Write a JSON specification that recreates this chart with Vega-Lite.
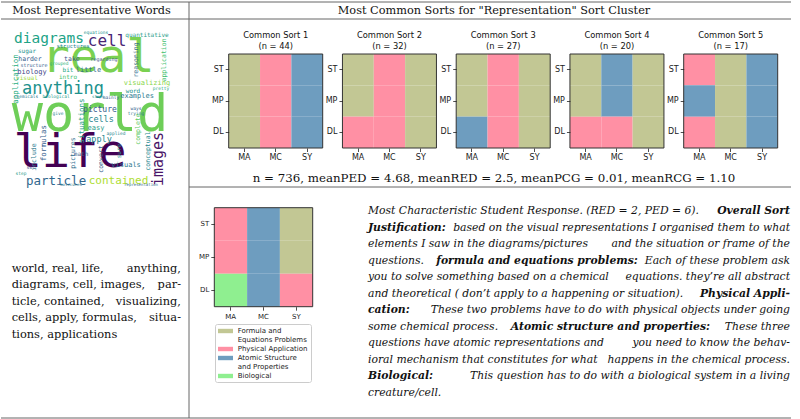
{
 "$schema": "https://vega.github.io/schema/vega-lite/v6.json",
 "padding": {"top": 1, "left": 0, "right": 0, "bottom": 0},
 "background": "white",
 "config": {
  "view": {"stroke": null},
  "axis": {"labelFont": "DejaVu Sans", "labelFontSize": 8, "labelColor": "#222", "tickColor": "#222", "tickSize": 3.5, "tickWidth": 0.8, "labelPadding": 2, "domain": false, "grid": false, "title": null, "labelAngle": 0}
 },
 "datasets": {
  "headers": [
   {"cell": "words", "text": "Most Representative Words"},
   {"cell": "sorts", "text": "Most Common Sorts for \"Representation\" Sort Cluster"}
  ],
  "panels": [
   {"sort": 1, "label": ["Common Sort 1", "(n = 44)"]},
   {"sort": 2, "label": ["Common Sort 2", "(n = 32)"]},
   {"sort": 3, "label": ["Common Sort 3", "(n = 27)"]},
   {"sort": 4, "label": ["Common Sort 4", "(n = 20)"]},
   {"sort": 5, "label": ["Common Sort 5", "(n = 17)"]}
  ],
  "sorts": [
   {"sort": 1, "col": "MA", "row": "ST", "cat": "Formula and Equations Problems"},
   {"sort": 1, "col": "MA", "row": "MP", "cat": "Formula and Equations Problems"},
   {"sort": 1, "col": "MA", "row": "DL", "cat": "Formula and Equations Problems"},
   {"sort": 1, "col": "MC", "row": "ST", "cat": "Physical Application"},
   {"sort": 1, "col": "MC", "row": "MP", "cat": "Physical Application"},
   {"sort": 1, "col": "MC", "row": "DL", "cat": "Physical Application"},
   {"sort": 1, "col": "SY", "row": "ST", "cat": "Atomic Structure and Properties"},
   {"sort": 1, "col": "SY", "row": "MP", "cat": "Atomic Structure and Properties"},
   {"sort": 1, "col": "SY", "row": "DL", "cat": "Atomic Structure and Properties"},
   {"sort": 2, "col": "MA", "row": "ST", "cat": "Formula and Equations Problems"},
   {"sort": 2, "col": "MA", "row": "MP", "cat": "Formula and Equations Problems"},
   {"sort": 2, "col": "MA", "row": "DL", "cat": "Physical Application"},
   {"sort": 2, "col": "MC", "row": "ST", "cat": "Physical Application"},
   {"sort": 2, "col": "MC", "row": "MP", "cat": "Physical Application"},
   {"sort": 2, "col": "MC", "row": "DL", "cat": "Physical Application"},
   {"sort": 2, "col": "SY", "row": "ST", "cat": "Formula and Equations Problems"},
   {"sort": 2, "col": "SY", "row": "MP", "cat": "Formula and Equations Problems"},
   {"sort": 2, "col": "SY", "row": "DL", "cat": "Formula and Equations Problems"},
   {"sort": 3, "col": "MA", "row": "ST", "cat": "Formula and Equations Problems"},
   {"sort": 3, "col": "MA", "row": "MP", "cat": "Formula and Equations Problems"},
   {"sort": 3, "col": "MA", "row": "DL", "cat": "Atomic Structure and Properties"},
   {"sort": 3, "col": "MC", "row": "ST", "cat": "Physical Application"},
   {"sort": 3, "col": "MC", "row": "MP", "cat": "Physical Application"},
   {"sort": 3, "col": "MC", "row": "DL", "cat": "Physical Application"},
   {"sort": 3, "col": "SY", "row": "ST", "cat": "Formula and Equations Problems"},
   {"sort": 3, "col": "SY", "row": "MP", "cat": "Formula and Equations Problems"},
   {"sort": 3, "col": "SY", "row": "DL", "cat": "Formula and Equations Problems"},
   {"sort": 4, "col": "MA", "row": "ST", "cat": "Formula and Equations Problems"},
   {"sort": 4, "col": "MA", "row": "MP", "cat": "Formula and Equations Problems"},
   {"sort": 4, "col": "MA", "row": "DL", "cat": "Physical Application"},
   {"sort": 4, "col": "MC", "row": "ST", "cat": "Atomic Structure and Properties"},
   {"sort": 4, "col": "MC", "row": "MP", "cat": "Atomic Structure and Properties"},
   {"sort": 4, "col": "MC", "row": "DL", "cat": "Physical Application"},
   {"sort": 4, "col": "SY", "row": "ST", "cat": "Formula and Equations Problems"},
   {"sort": 4, "col": "SY", "row": "MP", "cat": "Formula and Equations Problems"},
   {"sort": 4, "col": "SY", "row": "DL", "cat": "Formula and Equations Problems"},
   {"sort": 5, "col": "MA", "row": "ST", "cat": "Physical Application"},
   {"sort": 5, "col": "MA", "row": "MP", "cat": "Atomic Structure and Properties"},
   {"sort": 5, "col": "MA", "row": "DL", "cat": "Physical Application"},
   {"sort": 5, "col": "MC", "row": "ST", "cat": "Formula and Equations Problems"},
   {"sort": 5, "col": "MC", "row": "MP", "cat": "Formula and Equations Problems"},
   {"sort": 5, "col": "MC", "row": "DL", "cat": "Formula and Equations Problems"},
   {"sort": 5, "col": "SY", "row": "ST", "cat": "Atomic Structure and Properties"},
   {"sort": 5, "col": "SY", "row": "MP", "cat": "Atomic Structure and Properties"},
   {"sort": 5, "col": "SY", "row": "DL", "cat": "Atomic Structure and Properties"}
  ],
  "example": [
   {"col": "MA", "row": "ST", "cat": "Physical Application"},
   {"col": "MA", "row": "MP", "cat": "Physical Application"},
   {"col": "MA", "row": "DL", "cat": "Biological"},
   {"col": "MC", "row": "ST", "cat": "Atomic Structure and Properties"},
   {"col": "MC", "row": "MP", "cat": "Atomic Structure and Properties"},
   {"col": "MC", "row": "DL", "cat": "Atomic Structure and Properties"},
   {"col": "SY", "row": "ST", "cat": "Formula and Equations Problems"},
   {"col": "SY", "row": "MP", "cat": "Formula and Equations Problems"},
   {"col": "SY", "row": "DL", "cat": "Physical Application"}
  ],
  "wordlist": [
   {"line": 1, "text": "world, real, life,", "end": false},
   {"line": 1, "text": "anything,", "end": true},
   {"line": 2, "text": "diagrams, cell, images,", "end": false},
   {"line": 2, "text": "par-", "end": true},
   {"line": 3, "text": "ticle, contained,", "end": false},
   {"line": 3, "text": "visualizing,", "end": true},
   {"line": 4, "text": "cells, apply, formulas,", "end": false},
   {"line": 4, "text": "situa-", "end": true},
   {"line": 5, "text": "tions, applications", "end": false}
  ],
  "paragraph": [
   {"line": 1, "col": 0, "bold": false, "text": "Most Characteristic Student Response. (RED = 2, PED = 6)."},
   {"line": 1, "col": 68, "bold": true, "text": "Overall Sort"},
   {"line": 2, "col": 0, "bold": true, "text": "Justification:"},
   {"line": 2, "col": 68, "bold": false, "text": "based on the visual representations I organised them to what"},
   {"line": 3, "col": 0, "bold": false, "text": "elements I saw in the diagrams/pictures"},
   {"line": 3, "col": 68, "bold": false, "text": "and the situation or frame of the"},
   {"line": 4, "col": 0, "bold": false, "text": "questions."},
   {"line": 4, "col": 11, "bold": true, "text": "formula and equations problems:"},
   {"line": 4, "col": 68, "bold": false, "text": "Each of these problem ask"},
   {"line": 5, "col": 0, "bold": false, "text": "you to solve something based on a chemical"},
   {"line": 5, "col": 68, "bold": false, "text": "equations.  they’re all abstract"},
   {"line": 6, "col": 0, "bold": false, "text": "and theoretical ( don’t apply to a happening or situation)."},
   {"line": 6, "col": 68, "bold": true, "text": "Physical Appli-"},
   {"line": 7, "col": 0, "bold": true, "text": "cation:"},
   {"line": 7, "col": 68, "bold": false, "text": "These two problems have to do with physical objects under going"},
   {"line": 8, "col": 0, "bold": false, "text": "some chemical process."},
   {"line": 8, "col": 23, "bold": true, "text": "Atomic structure and properties:"},
   {"line": 8, "col": 68, "bold": false, "text": "These three"},
   {"line": 9, "col": 0, "bold": false, "text": "questions have atomic representations and"},
   {"line": 9, "col": 68, "bold": false, "text": "you need to know the behav-"},
   {"line": 10, "col": 0, "bold": false, "text": "ioral mechanism that constitutes for what"},
   {"line": 10, "col": 68, "bold": false, "text": "happens in the chemical process."},
   {"line": 11, "col": 0, "bold": true, "text": "Biological:"},
   {"line": 11, "col": 68, "bold": false, "text": "This question has to do with a biological system in a living"},
   {"line": 12, "col": 0, "bold": false, "text": "creature/cell."}
  ],
  "cloud": [
   {"word": "world", "cx": 49.8, "cy": 53.4, "weight": 104, "tone": 0.78, "vertical": false},
   {"word": "real", "cx": 54.9, "cy": 16.2, "weight": 94, "tone": 0.8, "vertical": false},
   {"word": "life", "cx": 37.1, "cy": 78.5, "weight": 94, "tone": 0.0, "vertical": false},
   {"word": "anything", "cx": 32.6, "cy": 36.7, "weight": 34, "tone": 0.5, "vertical": false},
   {"word": "diagrams", "cx": 23.7, "cy": 3.8, "weight": 29, "tone": 0.58, "vertical": false},
   {"word": "cell", "cx": 60.6, "cy": 5.7, "weight": 32, "tone": 0.1, "vertical": false},
   {"word": "images", "cx": 93.6, "cy": 82.4, "weight": 30, "tone": 0.05, "vertical": true},
   {"word": "particle", "cx": 28.2, "cy": 96.7, "weight": 25, "tone": 0.33, "vertical": false},
   {"word": "contained", "cx": 67.9, "cy": 96.7, "weight": 22, "tone": 0.88, "vertical": false},
   {"word": "visualizing", "cx": 86.0, "cy": 32.8, "weight": 14, "tone": 0.82, "vertical": false},
   {"word": "situations", "cx": 44.7, "cy": 57.6, "weight": 15, "tone": 0.55, "vertical": true},
   {"word": "formulas", "cx": 20.5, "cy": 72.0, "weight": 15, "tone": 0.3, "vertical": true},
   {"word": "apply", "cx": 55.5, "cy": 69.3, "weight": 17, "tone": 0.45, "vertical": false},
   {"word": "cells", "cx": 56.8, "cy": 56.3, "weight": 17, "tone": 0.45, "vertical": false},
   {"word": "picture", "cx": 56.1, "cy": 50.4, "weight": 16, "tone": 0.3, "vertical": false},
   {"word": "examples", "cx": 79.7, "cy": 41.3, "weight": 14, "tone": 0.4, "vertical": false},
   {"word": "quantitative", "cx": 86.0, "cy": 1.2, "weight": 12, "tone": 0.55, "vertical": false},
   {"word": "structures", "cx": 39.0, "cy": 8.7, "weight": 11, "tone": 0.45, "vertical": false},
   {"word": "reasoning", "cx": 79.0, "cy": 17.8, "weight": 13, "tone": 0.35, "vertical": true},
   {"word": "application", "cx": 2.7, "cy": 30.2, "weight": 15, "tone": 0.62, "vertical": true},
   {"word": "application", "cx": 96.8, "cy": 17.8, "weight": 13, "tone": 0.7, "vertical": true},
   {"word": "biology", "cx": 12.9, "cy": 25.6, "weight": 14, "tone": 0.2, "vertical": false},
   {"word": "harder", "cx": 11.6, "cy": 17.2, "weight": 13, "tone": 0.3, "vertical": false},
   {"word": "take", "cx": 38.3, "cy": 17.2, "weight": 13, "tone": 0.25, "vertical": false},
   {"word": "bit", "cx": 35.8, "cy": 24.3, "weight": 12, "tone": 0.6, "vertical": false},
   {"word": "little", "cx": 48.8, "cy": 24.3, "weight": 14, "tone": 0.35, "vertical": false},
   {"word": "intro", "cx": 35.8, "cy": 28.9, "weight": 12, "tone": 0.7, "vertical": false},
   {"word": "visual", "cx": 9.7, "cy": 29.5, "weight": 12, "tone": 0.85, "vertical": false},
   {"word": "sugar", "cx": 9.7, "cy": 11.9, "weight": 12, "tone": 0.5, "vertical": false},
   {"word": "word", "cx": 77.1, "cy": 38.0, "weight": 12, "tone": 0.5, "vertical": false},
   {"word": "easy", "cx": 53.6, "cy": 62.2, "weight": 14, "tone": 0.55, "vertical": false},
   {"word": "visuals", "cx": 72.7, "cy": 86.0, "weight": 14, "tone": 0.4, "vertical": false},
   {"word": "conceptual", "cx": 86.6, "cy": 77.2, "weight": 13, "tone": 0.45, "vertical": true},
   {"word": "complete", "cx": 80.3, "cy": 62.8, "weight": 13, "tone": 0.75, "vertical": true},
   {"word": "convert", "cx": 56.8, "cy": 82.4, "weight": 13, "tone": 0.3, "vertical": true},
   {"word": "include", "cx": 14.2, "cy": 81.1, "weight": 13, "tone": 0.4, "vertical": true},
   {"word": "pictures", "cx": 39.0, "cy": 78.5, "weight": 13, "tone": 0.35, "vertical": true},
   {"word": "math", "cx": 44.1, "cy": 79.1, "weight": 12, "tone": 0.3, "vertical": false},
   {"word": "sure", "cx": 68.2, "cy": 77.2, "weight": 12, "tone": 0.5, "vertical": true},
   {"word": "structure", "cx": 14.2, "cy": 21.1, "weight": 10, "tone": 0.3, "vertical": false},
   {"word": "equations", "cx": 53.6, "cy": 0.5, "weight": 9, "tone": 0.5, "vertical": false},
   {"word": "chemicals", "cx": 9.1, "cy": 41.9, "weight": 9, "tone": 0.4, "vertical": false},
   {"word": "biological", "cx": 28.2, "cy": 41.9, "weight": 9, "tone": 0.55, "vertical": false},
   {"word": "mainly", "cx": 63.1, "cy": 42.6, "weight": 9, "tone": 0.3, "vertical": false},
   {"word": "regarding", "cx": 58.7, "cy": 17.2, "weight": 10, "tone": 0.25, "vertical": false},
   {"word": "pretty", "cx": 94.9, "cy": 36.7, "weight": 9, "tone": 0.6, "vertical": false},
   {"word": "steps", "cx": 54.9, "cy": 41.9, "weight": 8, "tone": 0.5, "vertical": false},
   {"word": "molecules", "cx": 37.7, "cy": 99.3, "weight": 8, "tone": 0.4, "vertical": false},
   {"word": "representation", "cx": 82.2, "cy": 99.3, "weight": 8, "tone": 0.35, "vertical": false},
   {"word": "applied", "cx": 66.3, "cy": 66.1, "weight": 9, "tone": 0.45, "vertical": false},
   {"word": "ways", "cx": 79.0, "cy": 49.8, "weight": 9, "tone": 0.3, "vertical": false},
   {"word": "trying", "cx": 79.0, "cy": 53.0, "weight": 9, "tone": 0.4, "vertical": false},
   {"word": "grouped", "cx": 30.1, "cy": 20.4, "weight": 9, "tone": 0.65, "vertical": false},
   {"word": "give", "cx": 29.4, "cy": 53.0, "weight": 9, "tone": 0.45, "vertical": false},
   {"word": "set", "cx": 12.3, "cy": 87.6, "weight": 10, "tone": 0.2, "vertical": false},
   {"word": "step", "cx": 5.9, "cy": 92.1, "weight": 9, "tone": 0.55, "vertical": false}
  ]
 },
 "columns": 2,
 "spacing": 0,
 "align": "none",
 "bounds": "flush",
 "resolve": {"scale": {"color": "independent", "size": "independent"}, "legend": {"color": "independent", "size": "independent"}},
 "concat": [
  {
   "width": 188, "height": 17,
   "layer": [
    {"data": {"name": "headers"}, "transform": [{"filter": "datum.cell == 'words'"}], "mark": {"type": "text", "font": "DejaVu Serif", "fontSize": 11.3, "baseline": "middle", "color": "#111", "dx": -3.5}, "encoding": {"text": {"field": "text", "type": "nominal"}}},
    {"data": {"values": [{}]}, "mark": {"type": "rule", "color": "#666", "strokeWidth": 1}, "encoding": {"y": {"datum": 1, "type": "quantitative", "scale": {"domain": [0, 1]}, "axis": null}}},
    {"data": {"values": [{}]}, "mark": {"type": "rule", "color": "#666", "strokeWidth": 1}, "encoding": {"y": {"datum": 0, "type": "quantitative", "scale": {"domain": [0, 1]}, "axis": null}}},
    {"data": {"values": [{}]}, "mark": {"type": "rule", "color": "#666", "strokeWidth": 1}, "encoding": {"x": {"datum": 1, "type": "quantitative", "scale": {"domain": [0, 1]}, "axis": null}}}
   ]
  },
  {
   "width": 602, "height": 17,
   "layer": [
    {"data": {"name": "headers"}, "transform": [{"filter": "datum.cell == 'sorts'"}], "mark": {"type": "text", "font": "DejaVu Serif", "fontSize": 11.3, "baseline": "middle", "color": "#111", "dx": 4}, "encoding": {"text": {"field": "text", "type": "nominal"}}},
    {"data": {"values": [{}]}, "mark": {"type": "rule", "color": "#666", "strokeWidth": 1}, "encoding": {"y": {"datum": 1, "type": "quantitative", "scale": {"domain": [0, 1]}, "axis": null}}},
    {"data": {"values": [{}]}, "mark": {"type": "rule", "color": "#666", "strokeWidth": 1}, "encoding": {"y": {"datum": 0, "type": "quantitative", "scale": {"domain": [0, 1]}, "axis": null}}}
   ]
  },
  {
   "width": 188, "height": 168,
   "resolve": {"scale": {"x": "independent", "y": "independent"}},
   "layer": [
    {
     "data": {"name": "cloud"},
     "encoding": {
      "x": {"field": "cx", "type": "quantitative", "scale": {"domain": [-6.8, 112.7], "nice": false, "zero": false}, "axis": null},
      "y": {"field": "cy", "type": "quantitative", "scale": {"domain": [-8.94, 100.65], "nice": false, "zero": false, "reverse": true}, "axis": null},
      "text": {"field": "word", "type": "nominal"},
      "size": {"field": "weight", "type": "quantitative", "scale": {"type": "linear", "domain": [0, 104], "range": [0, 52], "nice": false, "zero": true}, "legend": null},
      "color": {"field": "tone", "type": "quantitative", "scale": {"scheme": "viridis", "domain": [0, 1]}, "legend": null}
     },
     "layer": [
      {"transform": [{"filter": "!datum.vertical"}], "mark": {"type": "text", "font": "DejaVu Sans Mono", "baseline": "middle", "align": "center"}},
      {"transform": [{"filter": "datum.vertical"}], "mark": {"type": "text", "font": "DejaVu Sans Mono", "baseline": "middle", "align": "center", "angle": 270}}
     ]
    },
    {"data": {"values": [{}]}, "mark": {"type": "rule", "color": "#666", "strokeWidth": 1}, "encoding": {"x": {"datum": 1, "type": "quantitative", "scale": {"domain": [0, 1]}, "axis": null}}}
   ]
  },
  {
   "width": 602, "height": 168,
   "title": {"text": "n = 736, meanPED = 4.68, meanRED = 2.5, meanPCG = 0.01, meanRCG = 1.10", "orient": "bottom", "frame": "group", "offset": -15, "anchor": "middle", "font": "DejaVu Serif", "fontSize": 11.8, "fontWeight": "normal", "color": "#111", "dx": 4},
   "resolve": {"scale": {"x": "independent", "y": "independent"}, "axis": {"x": "independent", "y": "independent"}},
   "layer": [
    {"data": {"name": "sorts"}, "transform": [{"filter": "datum.sort == 1"}], "mark": {"type": "rect"},
     "encoding": {
      "x": {"field": "col", "type": "nominal", "scale": {"domain": ["MA", "MC", "SY"], "paddingInner": 0, "paddingOuter": 0, "range": [39.7, 133.7]}, "axis": {"orient": "bottom", "offset": -39}},
      "y": {"field": "row", "type": "nominal", "scale": {"domain": ["ST", "MP", "DL"], "paddingInner": 0, "paddingOuter": 0, "range": [35, 129]}, "axis": {"orient": "left", "offset": -39.7}},
      "color": {"field": "cat", "type": "nominal", "scale": {"domain": ["Formula and Equations Problems", "Physical Application", "Atomic Structure and Properties", "Biological"], "range": ["#c2c794", "#ff90a4", "#6e9dbf", "#8fef90"]}, "legend": null}
     }},
    {"data": {"name": "sorts"}, "transform": [{"filter": "datum.sort == 2"}], "mark": {"type": "rect"},
     "encoding": {
      "x": {"field": "col", "type": "nominal", "scale": {"domain": ["MA", "MC", "SY"], "paddingInner": 0, "paddingOuter": 0, "range": [153.45, 247.45]}, "axis": {"orient": "bottom", "offset": -39}},
      "y": {"field": "row", "type": "nominal", "scale": {"domain": ["ST", "MP", "DL"], "paddingInner": 0, "paddingOuter": 0, "range": [35, 129]}, "axis": {"orient": "left", "offset": -153.45}},
      "color": {"field": "cat", "type": "nominal", "legend": null}
     }},
    {"data": {"name": "sorts"}, "transform": [{"filter": "datum.sort == 3"}], "mark": {"type": "rect"},
     "encoding": {
      "x": {"field": "col", "type": "nominal", "scale": {"domain": ["MA", "MC", "SY"], "paddingInner": 0, "paddingOuter": 0, "range": [267.2, 361.2]}, "axis": {"orient": "bottom", "offset": -39}},
      "y": {"field": "row", "type": "nominal", "scale": {"domain": ["ST", "MP", "DL"], "paddingInner": 0, "paddingOuter": 0, "range": [35, 129]}, "axis": {"orient": "left", "offset": -267.2}},
      "color": {"field": "cat", "type": "nominal", "legend": null}
     }},
    {"data": {"name": "sorts"}, "transform": [{"filter": "datum.sort == 4"}], "mark": {"type": "rect"},
     "encoding": {
      "x": {"field": "col", "type": "nominal", "scale": {"domain": ["MA", "MC", "SY"], "paddingInner": 0, "paddingOuter": 0, "range": [380.95, 474.95]}, "axis": {"orient": "bottom", "offset": -39}},
      "y": {"field": "row", "type": "nominal", "scale": {"domain": ["ST", "MP", "DL"], "paddingInner": 0, "paddingOuter": 0, "range": [35, 129]}, "axis": {"orient": "left", "offset": -380.95}},
      "color": {"field": "cat", "type": "nominal", "legend": null}
     }},
    {"data": {"name": "sorts"}, "transform": [{"filter": "datum.sort == 5"}], "mark": {"type": "rect"},
     "encoding": {
      "x": {"field": "col", "type": "nominal", "scale": {"domain": ["MA", "MC", "SY"], "paddingInner": 0, "paddingOuter": 0, "range": [494.7, 588.7]}, "axis": {"orient": "bottom", "offset": -39}},
      "y": {"field": "row", "type": "nominal", "scale": {"domain": ["ST", "MP", "DL"], "paddingInner": 0, "paddingOuter": 0, "range": [35, 129]}, "axis": {"orient": "left", "offset": -494.7}},
      "color": {"field": "cat", "type": "nominal", "legend": null}
     }},
    {
     "data": {"name": "panels"},
     "encoding": {
      "x": {"field": "sort", "type": "nominal", "scale": {"paddingInner": 0.1736, "paddingOuter": 0, "range": [39.7, 588.7]}, "axis": null}
     },
     "layer": [
      {"mark": {"type": "rect", "filled": false, "stroke": "#333", "strokeWidth": 1},
       "encoding": {"y": {"datum": "box", "type": "nominal", "scale": {"domain": ["box"], "paddingInner": 0, "paddingOuter": 0, "range": [35, 129]}, "axis": null}}},
      {"mark": {"type": "text", "font": "DejaVu Sans", "fontSize": 8.3, "lineHeight": 10.7, "baseline": "middle", "color": "#111", "dy": -18},
       "encoding": {"y": {"datum": "box", "type": "nominal", "bandPosition": 0}, "text": {"field": "label", "type": "nominal"}}}
     ]
    },
    {"data": {"values": [{}]}, "mark": {"type": "rule", "color": "#666", "strokeWidth": 1}, "encoding": {"y": {"datum": 0, "type": "quantitative", "scale": {"domain": [0, 1]}, "axis": null}}}
   ]
  },
  {
   "width": 188, "height": 231,
   "resolve": {"scale": {"x": "independent", "y": "independent"}},
   "layer": [
    {
     "data": {"name": "wordlist"},
     "encoding": {
      "y": {"field": "line", "type": "ordinal", "scale": {"type": "point", "padding": 0, "range": [81.7, 148]}, "axis": null},
      "text": {"field": "text", "type": "nominal"}
     },
     "layer": [
      {"transform": [{"filter": "!datum.end"}], "mark": {"type": "text", "align": "left", "baseline": "middle", "font": "DejaVu Serif", "fontSize": 11.4, "color": "#111", "dx": -83.3}},
      {"transform": [{"filter": "datum.end"}], "mark": {"type": "text", "align": "right", "baseline": "middle", "font": "DejaVu Serif", "fontSize": 11.4, "color": "#111", "dx": 86}}
     ]
    },
    {"data": {"values": [{}]}, "mark": {"type": "rule", "color": "#666", "strokeWidth": 1}, "encoding": {"x": {"datum": 1, "type": "quantitative", "scale": {"domain": [0, 1]}, "axis": null}}},
    {"data": {"values": [{}]}, "mark": {"type": "rule", "color": "#666", "strokeWidth": 1}, "encoding": {"y": {"datum": 0, "type": "quantitative", "scale": {"domain": [0, 1]}, "axis": null}}}
   ]
  },
  {
   "width": 602, "height": 231,
   "resolve": {"scale": {"x": "independent", "y": "independent"}, "axis": {"x": "independent", "y": "independent"}},
   "layer": [
    {"data": {"name": "example"}, "mark": {"type": "rect"},
     "encoding": {
      "x": {"field": "col", "type": "nominal", "scale": {"domain": ["MA", "MC", "SY"], "paddingInner": 0, "paddingOuter": 0, "range": [25.3, 123.7]}, "axis": {"orient": "bottom", "offset": -111.3, "labelFontSize": 7}},
      "y": {"field": "row", "type": "nominal", "scale": {"domain": ["ST", "MP", "DL"], "paddingInner": 0, "paddingOuter": 0, "range": [20.7, 119.7]}, "axis": {"orient": "left", "offset": -25.3, "labelFontSize": 7}},
      "color": {"field": "cat", "type": "nominal", "scale": {"domain": ["Formula and Equations Problems", "Physical Application", "Atomic Structure and Properties", "Biological"], "range": ["#c2c794", "#ff90a4", "#6e9dbf", "#8fef90"]},
       "legend": {"orient": "none", "legendX": 26, "legendY": 137, "title": null, "labelExpr": "datum.label == 'Formula and Equations Problems' ? ['Formula and', 'Equations Problems'] : datum.label == 'Atomic Structure and Properties' ? ['Atomic Structure', 'and Properties'] : datum.label", "symbolType": "M-1,-0.55H2.75V0.55H-1Z", "symbolSize": 64, "symbolStrokeWidth": 0, "symbolOpacity": 1, "labelFont": "DejaVu Sans", "labelFontSize": 7, "labelColor": "#222", "padding": 3, "strokeColor": "#cccccc", "fillColor": "white", "cornerRadius": 2, "rowPadding": 2, "labelOffset": 11.7}}
     }},
    {"data": {"values": [{}]}, "mark": {"type": "rect", "filled": false, "stroke": "#333", "strokeWidth": 1},
     "encoding": {
      "x": {"datum": "box", "type": "nominal", "scale": {"domain": ["box"], "paddingInner": 0, "paddingOuter": 0, "range": [25.3, 123.7]}, "axis": null},
      "y": {"datum": "box", "type": "nominal", "scale": {"domain": ["box"], "paddingInner": 0, "paddingOuter": 0, "range": [20.7, 119.7]}, "axis": null}
     }},
    {
     "data": {"name": "paragraph"},
     "encoding": {
      "x": {"field": "col", "type": "quantitative", "scale": {"domain": [0, 68], "nice": false, "zero": false, "range": [179, 601]}, "axis": null},
      "y": {"field": "line", "type": "ordinal", "scale": {"type": "point", "padding": 0, "range": [24, 205.7]}, "axis": null},
      "text": {"field": "text", "type": "nominal"}
     },
     "layer": [
      {"transform": [{"filter": "datum.col < 68 && !datum.bold"}], "mark": {"type": "text", "align": "left", "baseline": "middle", "font": "DejaVu Serif", "fontSize": 10.8, "fontStyle": "italic", "color": "#111"}},
      {"transform": [{"filter": "datum.col < 68 && datum.bold"}], "mark": {"type": "text", "align": "left", "baseline": "middle", "font": "DejaVu Serif", "fontSize": 10.8, "fontStyle": "italic", "fontWeight": "bold", "color": "#111"}},
      {"transform": [{"filter": "datum.col == 68 && !datum.bold"}], "mark": {"type": "text", "align": "right", "baseline": "middle", "font": "DejaVu Serif", "fontSize": 10.8, "fontStyle": "italic", "color": "#111"}},
      {"transform": [{"filter": "datum.col == 68 && datum.bold"}], "mark": {"type": "text", "align": "right", "baseline": "middle", "font": "DejaVu Serif", "fontSize": 10.8, "fontStyle": "italic", "fontWeight": "bold", "color": "#111"}}
     ]
    },
    {"data": {"values": [{}]}, "mark": {"type": "rule", "color": "#666", "strokeWidth": 1}, "encoding": {"y": {"datum": 0, "type": "quantitative", "scale": {"domain": [0, 1]}, "axis": null}}}
   ]
  }
 ]
}
